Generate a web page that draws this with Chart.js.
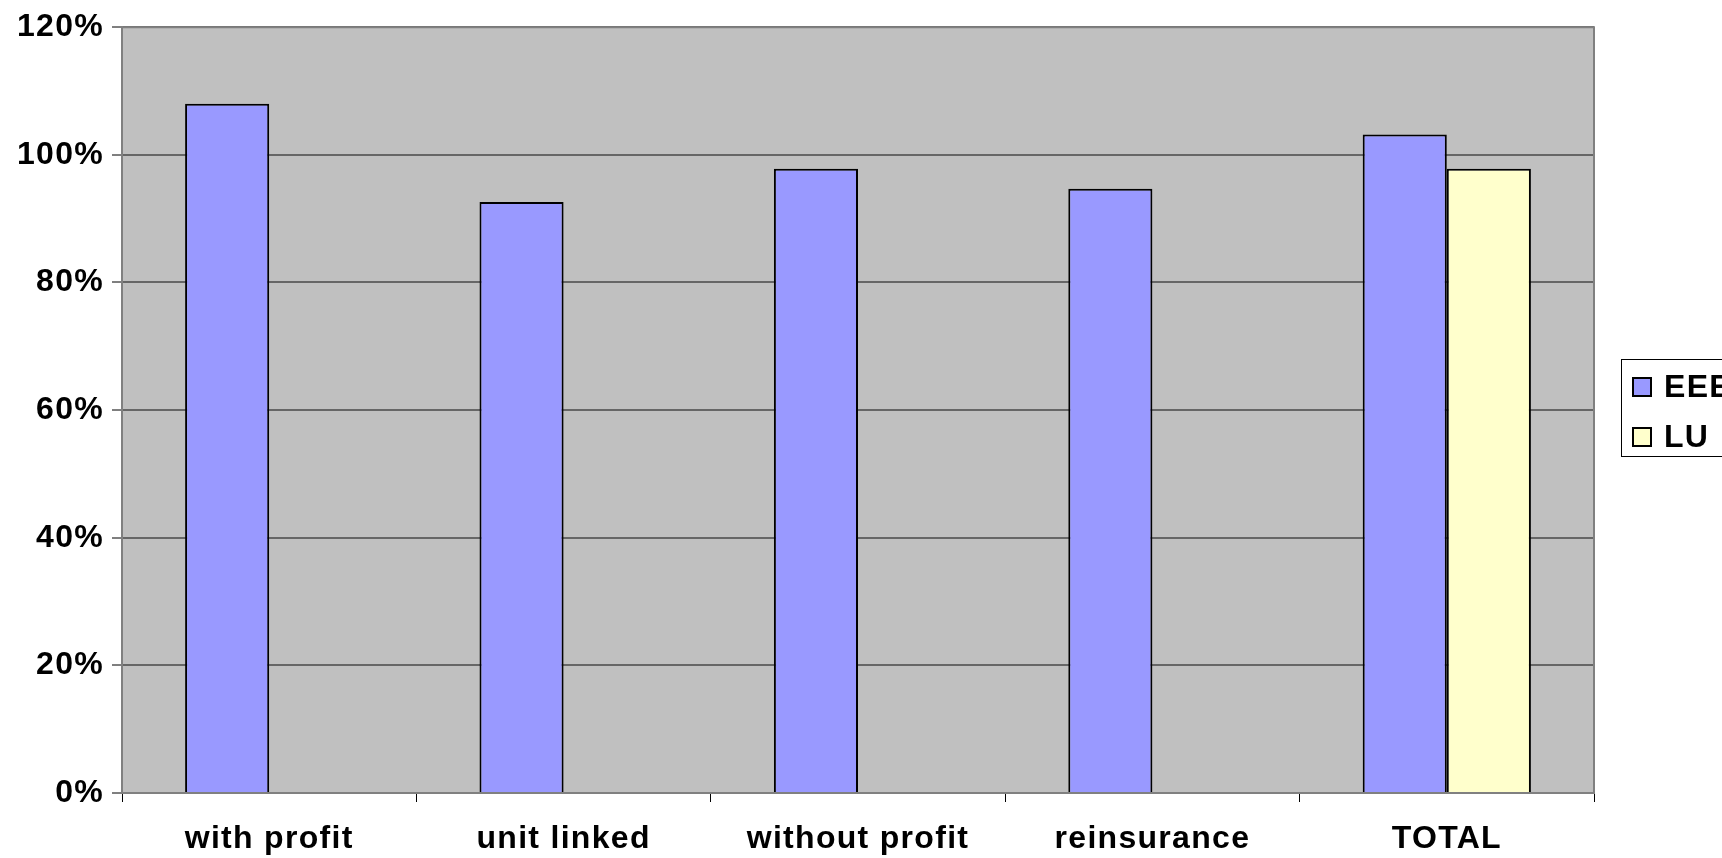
<!DOCTYPE html>
<html>
<head>
<meta charset="utf-8">
<script src="https://cdn.jsdelivr.net/npm/chart.js@4.4.1/dist/chart.umd.min.js"></script>
<style>
html,body{margin:0;padding:0;background:#fff;overflow:hidden;}
#wrap{width:1722px;height:858px;position:relative;}
</style>
</head>
<body>
<div id="wrap"><canvas id="c" width="1722" height="858"></canvas></div>
<script>
const categories = ['with profit', 'unit linked', 'without profit', 'reinsurance', 'TOTAL'];
const eeeValues = [108.0, 92.6, 97.8, 94.7, 103.2];
const luValues = [null, null, null, null, 97.8];
const seriesNames = ['EEE', 'LU'];
const yTicks = [0, 20, 40, 60, 80, 100, 120];

const FONT = "'Liberation Sans', Arial, Helvetica, sans-serif";
const SPACING = '1.3px';

const plotBg = {
  id: 'plotBg',
  beforeDraw(chart) {
    const {ctx, chartArea: a} = chart;
    ctx.letterSpacing = SPACING;
    ctx.save();
    ctx.fillStyle = '#c0c0c0';
    ctx.fillRect(a.left, a.top, a.right - a.left, a.bottom - a.top);
    ctx.restore();
  },
  afterDatasetsDraw(chart) {
    const {ctx, chartArea: a} = chart;
    ctx.save();
    ctx.strokeStyle = '#808080';
    ctx.lineWidth = 2;
    ctx.beginPath();
    ctx.moveTo(a.left, a.top);
    ctx.lineTo(a.right, a.top);
    ctx.lineTo(a.right, a.bottom);
    ctx.stroke();
    ctx.restore();
  }
};

const customLegend = {
  id: 'customLegend',
  afterDraw(chart) {
    const {ctx} = chart;
    ctx.save();
    ctx.letterSpacing = SPACING;
    const bx = 1621.5, by = 359.5, bw = 200, bh = 97;
    ctx.fillStyle = '#fff';
    ctx.fillRect(bx, by, bw, bh);
    ctx.strokeStyle = '#000';
    ctx.lineWidth = 1;
    ctx.strokeRect(bx, by, bw, bh);
    ctx.font = "bold 32px " + FONT;
    ctx.textBaseline = 'middle';
    ctx.textAlign = 'left';
    const rows = [387, 437];
    chart.data.datasets.forEach((ds, i) => {
      const cy = rows[i];
      ctx.fillStyle = ds.backgroundColor;
      ctx.fillRect(1633, cy - 9, 18, 18);
      ctx.strokeStyle = '#000';
      ctx.lineWidth = 2;
      ctx.strokeRect(1633, cy - 9, 18, 18);
      ctx.fillStyle = '#000';
      ctx.fillText(ds.label, 1664, cy + 1);
    });
    ctx.restore();
  }
};

new Chart(document.getElementById('c'), {
  type: 'bar',
  data: {
    labels: categories,
    datasets: [
      { label: seriesNames[0], data: eeeValues, backgroundColor: '#9999ff', borderColor: '#000', borderWidth: 2 },
      { label: seriesNames[1], data: luValues, backgroundColor: '#ffffcc', borderColor: '#000', borderWidth: 2 }
    ]
  },
  options: {
    responsive: false,
    animation: false,
    events: [],
    layout: { padding: { left: 0, top: 27, right: 128, bottom: 0 } },
    datasets: { bar: { categoryPercentage: 0.5714, barPercentage: 1.0, grouped: true } },
    plugins: { legend: { display: false }, tooltip: { enabled: false }, title: { display: false } },
    scales: {
      x: {
        offset: true,
        grid: { display: true, drawOnChartArea: false, drawTicks: true, tickLength: 9, tickColor: '#000', lineWidth: 1 },
        border: { display: true, color: '#808080', width: 2 },
        ticks: { color: '#000', font: { family: FONT, size: 32, weight: 'bold' }, padding: 18, maxRotation: 0, autoSkip: false },
        afterFit(scale) { scale.height = 65; }
      },
      y: {
        min: 0, max: 120,
        afterBuildTicks(scale) { scale.ticks = yTicks.map(v => ({ value: v })); },
        grid: { color: '#666', lineWidth: 2, drawTicks: true, tickLength: 10, tickColor: '#000', tickWidth: 1 },
        border: { display: true, color: '#808080', width: 2 },
        ticks: { color: '#000', font: { family: FONT, size: 32, weight: 'bold' }, padding: 8, callback: v => v + '%' },
        afterFit(scale) { scale.width = 122; }
      }
    }
  },
  plugins: [plotBg, customLegend]
});
</script>
</body>
</html>
